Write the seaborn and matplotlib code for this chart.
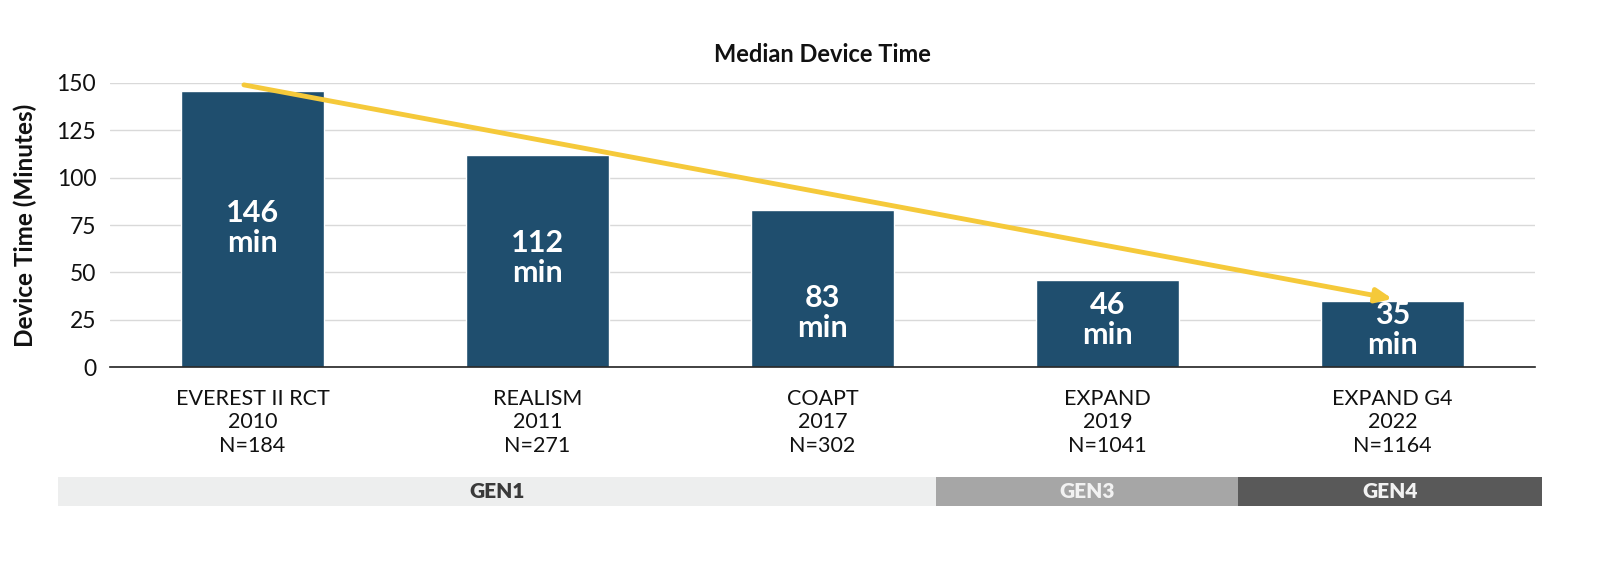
import matplotlib
matplotlib.use("Agg")
import matplotlib.pyplot as plt
import seaborn as sns
import pandas as pd

# ---- data ----
studies = ["EVEREST II RCT", "REALISM", "COAPT", "EXPAND", "EXPAND G4"]
years = ["2010", "2011", "2017", "2019", "2022"]
n_patients = ["N=184", "N=271", "N=302", "N=1041", "N=1164"]
device_time = [146, 112, 83, 46, 35]
trend_start = 149
trend_end = 36
generations = ["GEN1", "GEN3", "GEN4"]

# ---- style ----
sns.set_theme(style="white")
plt.rcParams["font.family"] = ["Lato", "DejaVu Sans"]

bar_color = "#1F4E6E"
arrow_color = "#F5C93A"
gen_colors = ["#EDEEEE", "#A6A6A6", "#595959"]
gen_text_colors = ["#3A3A3A", "#F2F2F2", "#F2F2F2"]

W, H = 1602, 576
fig = plt.figure(figsize=(W / 100, H / 100), dpi=100)
ax = fig.add_axes([110 / W, 1 - 367 / H, (1535 - 110) / W, (367 - 83) / H])

labels = [f"{s}\n{y}\n{n}" for s, y, n in zip(studies, years, n_patients)]
df = pd.DataFrame({"study": labels, "time": device_time})
sns.barplot(data=df, x="study", y="time", color=bar_color, width=0.5,
            saturation=1, ax=ax, zorder=2)

ax.set_ylim(0, 150)
ax.set_xlim(-0.5, len(studies) - 0.5)
ax.set_yticks([0, 25, 50, 75, 100, 125, 150])
ax.yaxis.grid(True, color="#D9D9D9", linewidth=1.0, zorder=0)
ax.set_axisbelow(True)
for s in ["left", "right", "top"]:
    ax.spines[s].set_visible(False)
ax.spines["bottom"].set_color("#222222")
ax.spines["bottom"].set_linewidth(1.2)
ax.tick_params(axis="y", length=0, labelsize=16.5, colors="#111111", pad=10)
ax.tick_params(axis="x", length=0, labelsize=15.5, colors="#111111", pad=16)
for t in ax.get_xticklabels():
    t.set_linespacing(1.2)
ax.set_xlabel("")
ax.set_ylabel("Device Time (Minutes)", fontsize=17.5, fontweight="bold",
              color="#111111", labelpad=14)
ax.set_title("Median Device Time", fontsize=17, fontweight="bold",
             color="#111111", pad=15)

# value labels inside bars (vertical placement follows the reference layout)
label_centres = [73.4, 57.6, 28.5, 24.8, 19.5]
for i, (v, yc) in enumerate(zip(device_time, label_centres)):
    ax.text(i, yc, f"{v}\nmin", ha="center", va="center", color="white",
            fontsize=22, fontweight="bold", linespacing=1.1, zorder=4)

# trend arrow
ax.annotate("", xy=(len(studies) - 1, trend_end), xytext=(-0.03, trend_start),
            arrowprops=dict(arrowstyle="-|>,head_length=0.8,head_width=0.35",
                            color=arrow_color, lw=3.5, shrinkA=0, shrinkB=0),
            annotation_clip=False, zorder=5)

# generation band
gax = fig.add_axes([58 / W, 1 - 506 / H, (1542 - 58) / W, (506 - 477) / H])
edges = [58, 936, 1238, 1542]
for g, c, tc, a, b in zip(generations, gen_colors, gen_text_colors, edges[:-1], edges[1:]):
    gax.barh(0, b - a, left=a, height=1, color=c, edgecolor="none")
    gax.text((a + b) / 2, 0, g, ha="center", va="center", fontsize=15,
             fontweight="heavy", color=tc)
gax.set_xlim(edges[0], edges[-1])
gax.set_ylim(-0.5, 0.5)
gax.axis("off")

fig.savefig("out.png", dpi=100)
